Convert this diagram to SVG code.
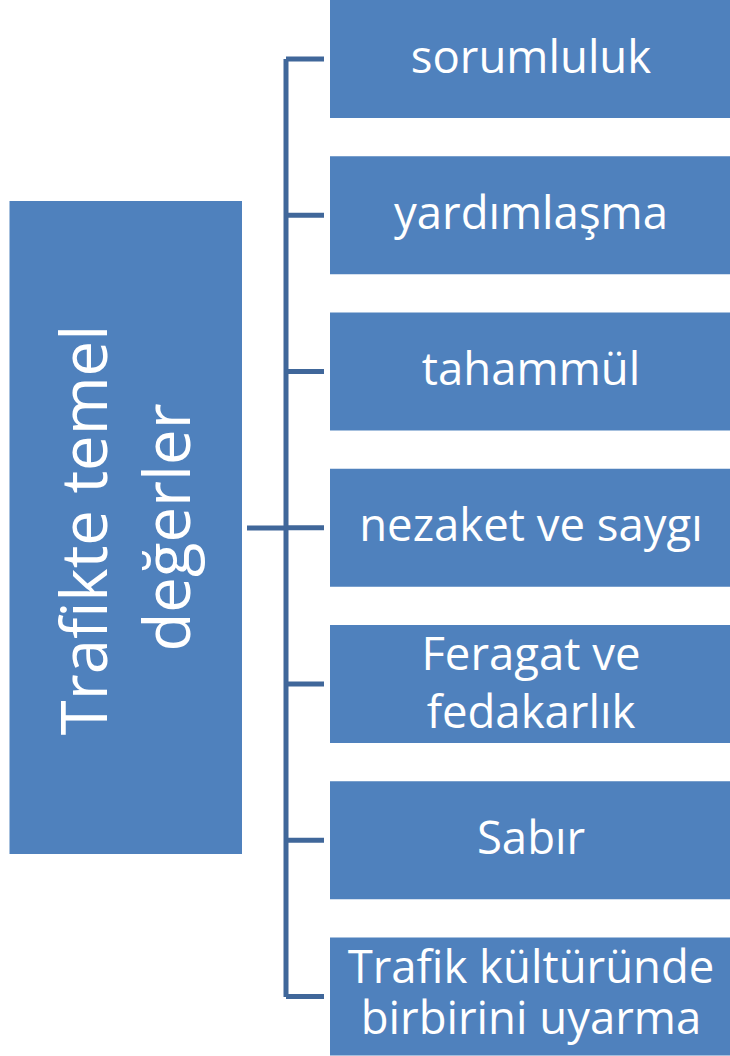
<svg xmlns="http://www.w3.org/2000/svg" width="730" height="1056" viewBox="0 0 730 1056">
<style>
.box{fill:#4F81BD;}
.lbl{fill:#FFFFFF;font-family:"Open Sans","Noto Sans","Liberation Sans",sans-serif;font-size:45.5px;text-anchor:middle;}
.main{fill:#FFFFFF;font-family:"Open Sans","Noto Sans","Liberation Sans",sans-serif;font-size:63.5px;text-anchor:middle;}
.conn{fill:none;stroke:#40679A;stroke-width:5;}
</style>
<rect width="730" height="1056" fill="#FFFFFF"/>
<g id="connectors">
<path class="conn" d="M247,528 H286"/>
<path class="conn" d="M286,59 V997"/>
<path class="conn" d="M286,59 H324"/>
<path class="conn" d="M286,215.25 H324"/>
<path class="conn" d="M286,371.5 H324"/>
<path class="conn" d="M286,527.75 H324"/>
<path class="conn" d="M286,684 H324"/>
<path class="conn" d="M286,840.25 H324"/>
<path class="conn" d="M286,996.5 H324"/>
</g>
<g id="root">
<rect class="box" x="9.5" y="201" width="232.5" height="653"/>
<g transform="translate(125.75,527.5) rotate(-90)">
<text class="main"><tspan x="-2.5" y="-18.75">Trafikte temel</tspan><tspan x="0" y="64">değerler</tspan></text>
</g>
</g>
<g id="n1">
<rect class="box" x="330" y="0" width="400" height="118"/>
<text class="lbl" x="531" y="72.7">sorumluluk</text>
</g>
<g id="n2">
<rect class="box" x="330" y="156.25" width="400" height="118"/>
<text class="lbl" x="531" y="228.95">yardımlaşma</text>
</g>
<g id="n3">
<rect class="box" x="330" y="312.5" width="400" height="118"/>
<text class="lbl" x="531" y="385.2">tahammül</text>
</g>
<g id="n4">
<rect class="box" x="330" y="468.75" width="400" height="118"/>
<text class="lbl" x="531" y="541.45">nezaket ve saygı</text>
</g>
<g id="n5">
<rect class="box" x="330" y="625" width="400" height="118"/>
<text class="lbl"><tspan x="531" y="670">Feragat ve</tspan><tspan x="531" y="727.7">fedakarlık</tspan></text>
</g>
<g id="n6">
<rect class="box" x="330" y="781.25" width="400" height="118"/>
<text class="lbl" x="531" y="853.95">Sabır</text>
</g>
<g id="n7">
<rect class="box" x="330" y="937.5" width="400" height="118"/>
<text class="lbl"><tspan x="531" y="983.3">Trafik kültüründe</tspan><tspan x="531" y="1034">birbirini uyarma</tspan></text>
</g>
</svg>
